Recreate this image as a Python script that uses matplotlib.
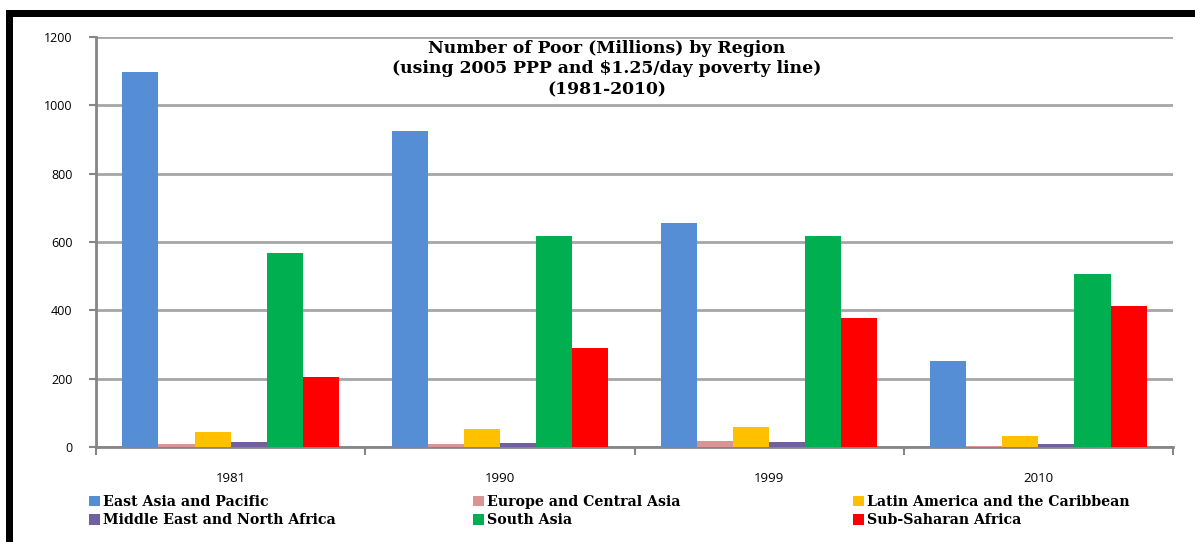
import matplotlib
matplotlib.use("Agg")
import matplotlib.pyplot as plt
from matplotlib.patches import Rectangle, Patch
import numpy as np

years = ["1981", "1990", "1999", "2010"]
regions = ["East Asia and Pacific", "Europe and Central Asia", "Latin America and the Caribbean",
           "Middle East and North Africa", "South Asia", "Sub-Saharan Africa"]
east_asia = [1097, 926, 656, 251]
europe_ca = [8, 9, 18, 2]
latin_am = [43, 53, 60, 32]
mena = [16, 13, 14, 8]
south_asia = [568, 617, 619, 507]
ssa = [205, 290, 377, 414]
series = [east_asia, europe_ca, latin_am, mena, south_asia, ssa]
colors = ["#558ED5", "#D99594", "#FFC000", "#7060A0", "#00B050", "#FF0000"]
yticks = [0, 200, 400, 600, 800, 1000, 1200]

W, H = 1195, 542
fig = plt.figure(figsize=(W / 100, H / 100), dpi=100)

# black frame (top and left edges)
fig.patches.append(Rectangle((6 / W, 0), 7 / W, 1 - 10 / H, transform=fig.transFigure,
                             facecolor="black", edgecolor="none"))
fig.patches.append(Rectangle((6 / W, 1 - 17 / H), 1, 7 / H, transform=fig.transFigure,
                             facecolor="black", edgecolor="none"))

ax = fig.add_axes([96 / W, 1 - 447 / H, (1173 - 96) / W, (447 - 37) / H])
x = np.arange(len(years))
bw = 0.134
for j, (vals, c, name) in enumerate(zip(series, colors, regions)):
    ax.bar(x + (j - 2.5) * bw, vals, width=bw, color=c, label=name, zorder=3)

ax.set_xlim(-0.5, len(years) - 0.5)
ax.set_ylim(0, 1200)
ax.set_yticks(yticks)
ax.set_yticklabels([str(v) for v in yticks])
ax.set_xticks(x)
ax.set_xticklabels(years)
ax.set_xticks(np.arange(-0.5, len(years), 1.0), minor=True)
ax.tick_params(axis="x", which="major", length=0, pad=18, labelsize=9.5)
ax.tick_params(axis="x", which="minor", length=6, width=1.5, color="#868686")
ax.tick_params(axis="y", length=5, width=1.5, color="#868686", pad=12, labelsize=9)
for lab in ax.get_xticklabels() + ax.get_yticklabels():
    lab.set_fontfamily("Open Sans")
ax.grid(axis="y", color="#A6A6A6", linewidth=2, zorder=0)
for s in ["top", "right"]:
    ax.spines[s].set_visible(False)
for s in ["left", "bottom"]:
    ax.spines[s].set_color("#868686")
    ax.spines[s].set_linewidth(2)

fig.text(607 / W, 1 - 69 / H, "Number of Poor (Millions) by Region\n(using 2005 PPP and $1.25/day poverty line)\n(1981-2010)",
         ha="center", va="center", fontsize=12.4, fontweight="bold", family="DejaVu Serif",
         linespacing=1.3)

handles = [Patch(facecolor=c, edgecolor="none") for c in colors]
cols = [(0, 3, 89), (1, 4, 473), (2, 5, 853)]
for a, b, px in cols:
    fig.legend([handles[a], handles[b]], [regions[a], regions[b]], loc="upper left",
               bbox_to_anchor=(px / W, 1 - 495 / H), frameon=False, ncol=1,
               handlelength=0.8, handleheight=0.8, handletextpad=0.2, labelspacing=0.3,
               borderpad=0, borderaxespad=0,
               prop={"family": "DejaVu Serif", "weight": "bold", "size": 10.2})

fig.savefig("out.png", dpi=100, facecolor="white")
